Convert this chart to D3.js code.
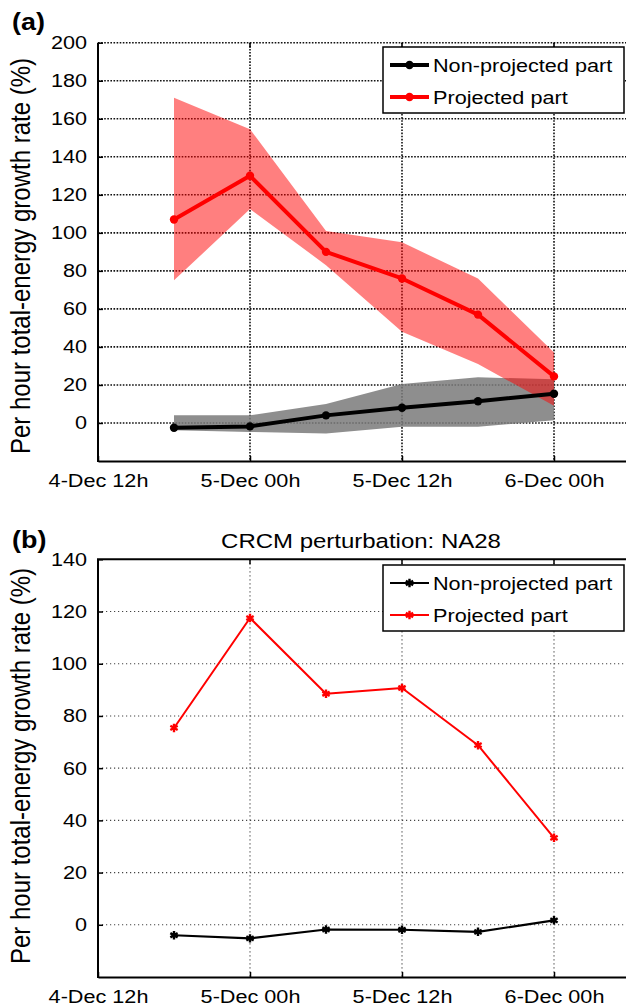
<!DOCTYPE html>
<html>
<head>
<meta charset="utf-8">
<script src="https://cdn.jsdelivr.net/npm/d3@7"></script>
<style>
    body { margin: 0; background: #fff; }
    svg { display: block; font-family: "Liberation Sans", Arial, Helvetica, sans-serif; }
</style>
</head>
<body>
<svg id="chart" width="626" height="1006"></svg>
<script>
// 6-hourly output times
const times = ["2000-12-04T18", "2000-12-05T00", "2000-12-05T06", "2000-12-05T12", "2000-12-05T18", "2000-12-06T00"];
const xTicks = ["2000-12-04T12", "2000-12-05T00", "2000-12-05T12", "2000-12-06T00"];

// panel (a): ensemble mean + spread
const projMean = [107, 130, 90, 76, 57, 24.5];
const projUpper = [171, 154.5, 101, 95, 76, 37];
const projLower = [75, 112.5, 83, 48, 31, 9];
const nonMean = [-2.5, -1.8, 4, 8, 11.4, 15.4];
const nonUpper = [4, 4, 10, 20.5, 24, 23];
const nonLower = [-3.8, -4.7, -5.6, -2, -2, 1.4];

// panel (b): single perturbation NA28
const projNA28 = [75.4, 117.5, 88.5, 90.7, 68.8, 33.3];
const nonNA28 = [-4, -5.2, -1.8, -1.9, -2.7, 1.7];

const yTicksA = [0, 20, 40, 60, 80, 100, 120, 140, 160, 180, 200];
const yTicksB = [0, 20, 40, 60, 80, 100, 120, 140];

const legendLabels = ["Non-projected part", "Projected part"];
const yLabel = "Per hour total-energy growth rate (%)";

const parse = d3.utcParse("%Y-%m-%dT%H");
const fmt = d3.utcFormat("%-d-%b %Hh");
const dates = times.map(parse);
const tickDates = xTicks.map(parse);

const svg = d3.select("#chart");
const W = 626;
const SX = 1.17; // the original figure is a bit wider than tall, text too

const x = d3.scaleUtc()
    .domain([parse("2000-12-04T12"), parse("2000-12-06T12")])
    .range([98, 706]);

// move x/y attrs into a transform so the glyphs can be widened
function widen(sel) {
    sel.each(function () {
        const t = d3.select(this);
        const tx = +t.attr("x") || 0, ty = +t.attr("y") || 0;
        t.attr("x", null).attr("y", null)
            .attr("transform", `translate(${tx},${ty}) scale(${SX},1)`);
    });
}

function addMarker(sel, kind, color) {
    if (kind === "circle") {
        sel.attr("d", d3.symbol(d3.symbolCircle, 55)).attr("fill", color);
    } else {
        sel.attr("d", d3.symbol(d3.symbolAsterisk, 50))
            .attr("fill", "none").attr("stroke", color).attr("stroke-width", 2.4);
    }
}

function drawPanel(cfg) {
    const y = d3.scaleLinear().domain(cfg.yDomain).range([cfg.bottom, cfg.top]);
    const g = svg.append("g");

    // grid
    const grid = g.append("g")
        .attr("stroke", cfg.gridColor)
        .attr("stroke-width", cfg.gridWidth)
        .attr("stroke-dasharray", cfg.gridDash);
    grid.selectAll(".hg")
        .data(cfg.yTicks.filter(d => cfg.dottedTop || d !== cfg.yDomain[1]))
        .join("line")
        .attr("x1", x.range()[0]).attr("x2", W)
        .attr("y1", d => y(d)).attr("y2", d => y(d));
    grid.selectAll(".vg")
        .data(tickDates.slice(1))
        .join("line")
        .attr("x1", d => x(d)).attr("x2", d => x(d))
        .attr("y1", cfg.top).attr("y2", cfg.bottom);

    // spread bands
    if (cfg.bands) {
        cfg.bands.forEach(b => {
            const area = d3.area()
                .x((d, i) => x(dates[i]))
                .y0((d, i) => y(b.lower[i]))
                .y1((d, i) => y(b.upper[i]));
            g.append("path")
                .datum(b.upper)
                .attr("d", area)
                .attr("fill", b.fill)
                .attr("fill-opacity", b.opacity);
        });
    }

    // lines + markers
    cfg.series.forEach(s => {
        const line = d3.line().x((d, i) => x(dates[i])).y(d => y(d));
        g.append("path")
            .datum(s.values)
            .attr("d", line)
            .attr("fill", "none")
            .attr("stroke", s.color)
            .attr("stroke-width", s.width)
            .attr("stroke-linejoin", "round");
        g.selectAll(null)
            .data(s.values)
            .join("path")
            .attr("transform", (d, i) => `translate(${x(dates[i])},${y(d)})`)
            .call(addMarker, cfg.marker, s.color);
    });

    // axes
    const yAxis = d3.axisLeft(y).tickValues(cfg.yTicks).tickSize(-5).tickSizeOuter(0).tickPadding(11);
    const xAxis = d3.axisBottom(x).tickValues(tickDates).tickFormat(fmt).tickSize(-5).tickSizeOuter(0).tickPadding(13);

    const ya = g.append("g").attr("transform", `translate(${x.range()[0]},0)`).call(yAxis);
    const xa = g.append("g").attr("transform", `translate(0,${cfg.bottom})`).call(xAxis);
    [ya, xa].forEach(a => {
        a.select(".domain").attr("stroke", "#000").attr("stroke-width", 2);
        a.selectAll(".tick line").attr("stroke", "#000").attr("stroke-width", 1.5);
        a.selectAll("text").attr("fill", "#000").attr("font-size", 18.5).attr("font-family", null).call(widen);
    });
    ya.select(".domain").attr("d", `M0,${cfg.bottom + 1}V${cfg.top}`);

    // top border and top ticks
    if (!cfg.dottedTop) {
        g.append("line")
            .attr("x1", x.range()[0] - 1).attr("x2", W)
            .attr("y1", cfg.top).attr("y2", cfg.top)
            .attr("stroke", "#000").attr("stroke-width", 2);
    }
    g.selectAll(".tt")
        .data(tickDates.slice(1))
        .join("line")
        .attr("x1", d => x(d)).attr("x2", d => x(d))
        .attr("y1", cfg.top).attr("y2", cfg.top + 5)
        .attr("stroke", "#000").attr("stroke-width", 1.5);

    // y label
    g.append("text")
        .attr("transform", `translate(30,${cfg.labelY}) scale(${SX},1) rotate(-90)`)
        .attr("text-anchor", "middle")
        .attr("font-size", 24)
        .text(yLabel);

    // panel letter
    g.append("text")
        .attr("x", 12).attr("y", cfg.letterY)
        .attr("font-size", 23).attr("font-weight", "bold")
        .text(cfg.letter)
        .call(widen);

    if (cfg.title) {
        g.append("text")
            .attr("x", 361).attr("y", cfg.letterY)
            .attr("text-anchor", "middle")
            .attr("font-size", 20.5)
            .text(cfg.title)
            .call(widen);
    }

    // legend
    const lg = g.append("g");
    lg.append("rect")
        .attr("x", 383).attr("y", cfg.legendTop)
        .attr("width", 241).attr("height", 66)
        .attr("fill", "#fff").attr("stroke", "#000").attr("stroke-width", 1.5);
    cfg.series.forEach((s, i) => {
        const ry = cfg.legendTop + 18 + i * 32;
        lg.append("line")
            .attr("x1", 390).attr("x2", 429)
            .attr("y1", ry).attr("y2", ry)
            .attr("stroke", s.color).attr("stroke-width", s.width);
        lg.append("path")
            .attr("transform", `translate(409.5,${ry})`)
            .call(addMarker, cfg.marker, s.color);
        lg.append("text")
            .attr("x", 433).attr("y", ry)
            .attr("dy", "0.36em")
            .attr("font-size", 18.5)
            .text(legendLabels[i])
            .call(widen);
    });
}

drawPanel({
    top: 42.7, bottom: 461, yDomain: [-20, 200], yTicks: yTicksA,
    gridColor: "#111", gridWidth: 1.6, gridDash: "1.6 1.5", dottedTop: true,
    bands: [
        { upper: nonUpper, lower: nonLower, fill: "#7a7a7a", opacity: 0.85 },
        { upper: projUpper, lower: projLower, fill: "#ff0000", opacity: 0.5 }
    ],
    series: [
        { values: nonMean, color: "#000", width: 4 },
        { values: projMean, color: "#ff0000", width: 4 }
    ],
    marker: "circle",
    labelY: 256, letter: "(a)", letterY: 30, legendTop: 47
});

drawPanel({
    top: 559.3, bottom: 977, yDomain: [-20, 140], yTicks: yTicksB,
    gridColor: "#444", gridWidth: 1.1, gridDash: "1.2 2.8", dottedTop: false,
    series: [
        { values: nonNA28, color: "#000", width: 2.2 },
        { values: projNA28, color: "#ff0000", width: 2 }
    ],
    marker: "star",
    labelY: 766, letter: "(b)", letterY: 548, title: "CRCM perturbation: NA28", legendTop: 565
});
</script>
</body>
</html>
